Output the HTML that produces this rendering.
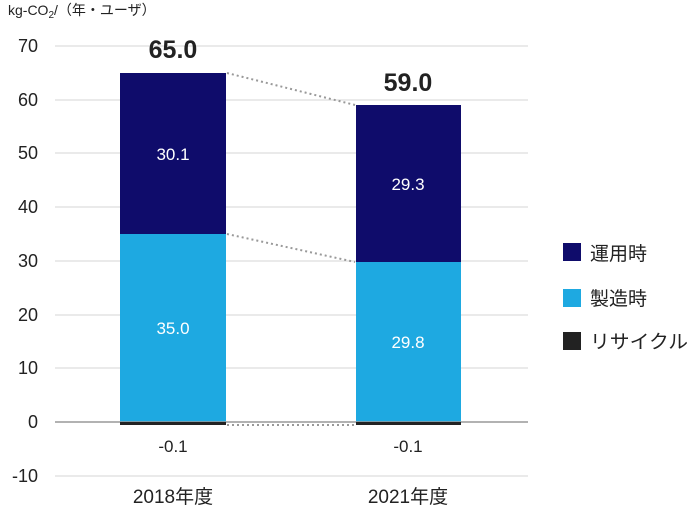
<!DOCTYPE html>
<html><head><meta charset="utf-8"><style>
body{margin:0;background:#fff}
svg{display:block;font-family:"Liberation Sans","Noto Sans CJK JP",sans-serif}
</style></head><body>
<svg width="690" height="505" viewBox="0 0 690 505">
<text x="8" y="15" font-size="14" fill="#222">kg-CO<tspan font-size="10" dy="3">2</tspan><tspan dy="-3">/（年・ユーザ）</tspan></text>
<g stroke="#d4d4d4" stroke-width="1">
<line x1="55" x2="528" y1="46" y2="46"/><line x1="55" x2="528" y1="100" y2="100"/>
<line x1="55" x2="528" y1="153" y2="153"/><line x1="55" x2="528" y1="207" y2="207"/>
<line x1="55" x2="528" y1="261" y2="261"/><line x1="55" x2="528" y1="315" y2="315"/>
<line x1="55" x2="528" y1="368" y2="368"/><line x1="55" x2="528" y1="476" y2="476"/>
</g>
<g font-size="18" fill="#222" text-anchor="end">
<text x="38" y="52">70</text><text x="38" y="106">60</text><text x="38" y="159">50</text>
<text x="38" y="213">40</text><text x="38" y="267">30</text><text x="38" y="321">20</text>
<text x="38" y="374">10</text><text x="38" y="428">0</text><text x="38" y="482">-10</text>
</g>
<rect x="120" y="73" width="106" height="161" fill="#0f0c6b"/>
<rect x="120" y="234" width="106" height="188" fill="#1ea9e1"/>
<rect x="356" y="105" width="105" height="157" fill="#0f0c6b"/>
<rect x="356" y="262" width="105" height="160" fill="#1ea9e1"/>
<line x1="55" x2="528" y1="422" y2="422" stroke="#999" stroke-width="1.5"/>
<rect x="120" y="422" width="106" height="3" fill="#222"/>
<rect x="356" y="422" width="105" height="3" fill="#222"/>
<g stroke="#999" stroke-width="2" stroke-dasharray="2,3">
<line x1="227" y1="73" x2="355" y2="105"/>
<line x1="227" y1="234" x2="355" y2="262"/>
<line x1="227" y1="425" x2="355" y2="425"/>
</g>
<g font-size="17" fill="#fff" text-anchor="middle">
<text x="173" y="160">30.1</text><text x="173" y="334">35.0</text>
<text x="408" y="190">29.3</text><text x="408" y="348">29.8</text>
</g>
<g font-size="25" fill="#222" text-anchor="middle" font-weight="bold">
<text x="173" y="58">65.0</text><text x="408" y="91">59.0</text>
</g>
<g font-size="17" fill="#222" text-anchor="middle">
<text x="173" y="452">-0.1</text><text x="408" y="452">-0.1</text>
</g>
<g font-size="19" fill="#222" text-anchor="middle">
<text x="173" y="503">2018年度</text><text x="408" y="503">2021年度</text>
</g>
<rect x="563" y="243" width="18" height="18" fill="#0f0c6b"/>
<rect x="563" y="289" width="18" height="18" fill="#1ea9e1"/>
<rect x="563" y="332" width="18" height="18" fill="#222"/>
<g font-size="19" fill="#222">
<text x="590" y="260">運用時</text><text x="590" y="305">製造時</text><text x="590" y="348" textLength="98" lengthAdjust="spacingAndGlyphs">リサイクル</text>
</g>
</svg>
</body></html>
